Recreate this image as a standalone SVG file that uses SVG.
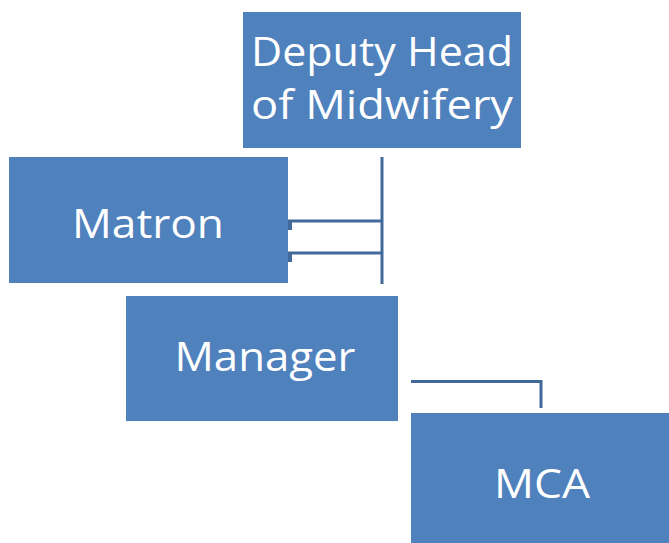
<svg xmlns="http://www.w3.org/2000/svg" width="669" height="543" viewBox="0 0 669 543">
<style>
.box{fill:#4F81BD}
.t{fill:#fff;font-family:"Open Sans","Liberation Sans",sans-serif;font-size:40px;text-anchor:middle}
.c{stroke:#41699A;stroke-width:3;fill:none}
</style>
<rect width="669" height="543" fill="#fff"/>
<g id="connectors">
<line class="c" x1="382" y1="157" x2="382" y2="284"/>
<line class="c" x1="288" y1="221" x2="382" y2="221"/>
<line class="c" x1="288" y1="253" x2="382" y2="253"/>
<rect x="288" y="221" width="4" height="9" fill="#41699A"/>
<rect x="288" y="253" width="4" height="9" fill="#41699A"/>
<polyline class="c" points="411,381.5 541,381.5 541,408"/>
</g>
<g id="deputy">
<rect class="box" x="243" y="12" width="278" height="136"/>
<text class="t" x="382" y="66" textLength="262" lengthAdjust="spacingAndGlyphs">Deputy Head</text>
<text class="t" x="382" y="119" textLength="262" lengthAdjust="spacingAndGlyphs">of Midwifery</text>
</g>
<g id="matron">
<rect class="box" x="9" y="157" width="279" height="126"/>
<text class="t" x="148" y="238" textLength="152" lengthAdjust="spacingAndGlyphs">Matron</text>
</g>
<g id="manager">
<rect class="box" x="126" y="296" width="272" height="125"/>
<text class="t" x="265" y="371" textLength="181" lengthAdjust="spacingAndGlyphs">Manager</text>
</g>
<g id="mca">
<rect class="box" x="411" y="413" width="258" height="130"/>
<text class="t" x="542" y="498" textLength="96" lengthAdjust="spacingAndGlyphs">MCA</text>
</g>
</svg>
